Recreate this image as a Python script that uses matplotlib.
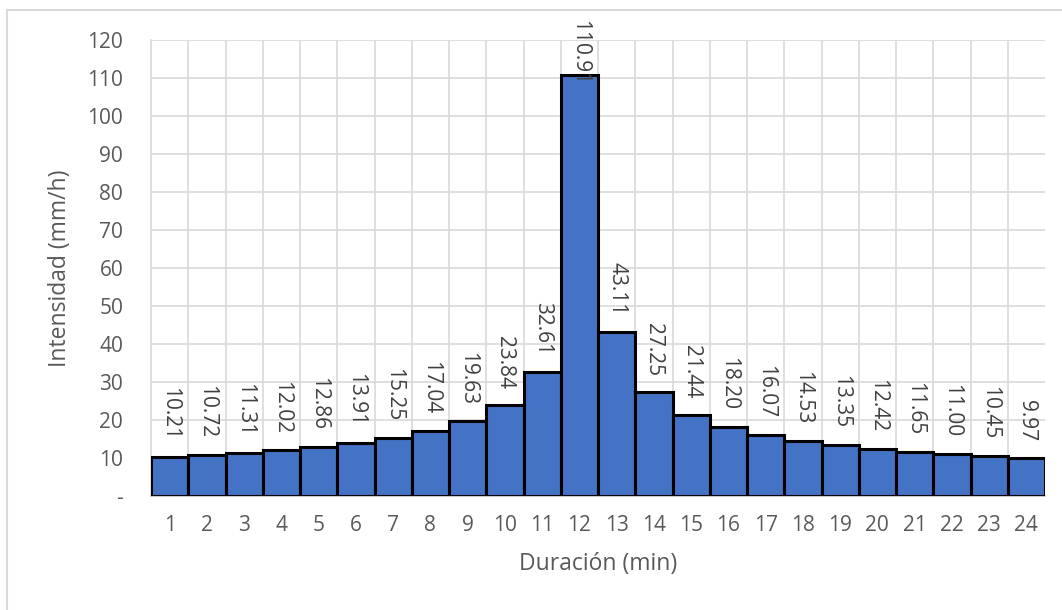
import matplotlib
matplotlib.use("Agg")
import matplotlib.pyplot as plt
from matplotlib.patches import Rectangle
from matplotlib.ticker import FixedLocator, FuncFormatter

# Hietograma: intensidad por intervalo de duración
duracion = list(range(1, 25))
intensidad = [10.21, 10.72, 11.31, 12.02, 12.86, 13.91, 15.25, 17.04, 19.63, 23.84,
              32.61, 110.91, 43.11, 27.25, 21.44, 18.20, 16.07, 14.53, 13.35, 12.42,
              11.65, 11.00, 10.45, 9.97]
y_ticks = list(range(0, 130, 10))

plt.rcParams['font.family'] = ['Open Sans', 'DejaVu Sans']
txt_color = '#595959'
grid_color = '#D9D9D9'

W, H = 1062, 610
fig = plt.figure(figsize=(W / 100, H / 100), dpi=100)
ax = fig.add_axes([151 / W, 1 - 496 / H, (1045 - 151) / W, (496 - 40) / H])

# outer chart frame
fig.patches.append(Rectangle((7 / W, -0.1), 1.2, 1 - 10 / H + 0.1,
                             transform=fig.transFigure, fill=False,
                             edgecolor='#D9D9D9', linewidth=1.5, zorder=0))

ax.bar(duracion, intensidad, width=1.0, color='#4472C4', edgecolor='black',
       linewidth=2.2, zorder=3)

ax.set_xlim(0.5, 24.5)
ax.set_ylim(0, 120)
ax.yaxis.set_major_locator(FixedLocator(y_ticks))
ax.yaxis.set_major_formatter(FuncFormatter(lambda v, p: '-' if v == 0 else f'{int(v)}'))
ax.set_xticks(duracion)
ax.set_xticks([d + 0.5 for d in duracion[:-1]], minor=True)

ax.grid(axis='y', which='major', color=grid_color, linewidth=1.2, zorder=0)
ax.grid(axis='x', which='minor', color=grid_color, linewidth=1.2, zorder=0)
ax.tick_params(axis='both', which='both', length=0, labelsize=15, labelcolor=txt_color)
ax.tick_params(axis='x', pad=14)
ax.tick_params(axis='y', pad=20)

for s in ['top', 'right']:
    ax.spines[s].set_visible(False)
ax.spines['left'].set_color(grid_color)
ax.spines['left'].set_linewidth(1.2)
ax.spines['bottom'].set_color('#BFBFBF')
ax.spines['bottom'].set_linewidth(1.2)
ax.set_axisbelow(True)

ax.set_xlabel('Duración (min)', fontsize=16.5, color=txt_color, labelpad=11)
ax.set_ylabel('Intensidad (mm/h)', fontsize=16.5, color=txt_color, labelpad=11)

# value labels above each bar, rotated to read top-to-bottom
labels = []
for d, v in zip(duracion, intensidad):
    t = ax.annotate(f'{v:.2f}', xy=(d, v), xytext=(0, 12), textcoords='offset points',
                    ha='center', va='bottom', rotation=-90, fontsize=15,
                    color='#404040', annotation_clip=False, zorder=5)
    labels.append((t, d))

# a label that would run past the top of the chart is pinned just below it
fig.canvas.draw()
renderer = fig.canvas.get_renderer()
top_limit = H - 20
for t, d in labels:
    bb = t.get_window_extent(renderer)
    if bb.y1 > top_limit:
        t.xycoords = ax.get_xaxis_transform()
        t.xy = (d, (top_limit - ax.bbox.y0) / ax.bbox.height)
        t.xyann = (0, 0)
        t.set_va('top')

fig.savefig('out.png', dpi=100)
